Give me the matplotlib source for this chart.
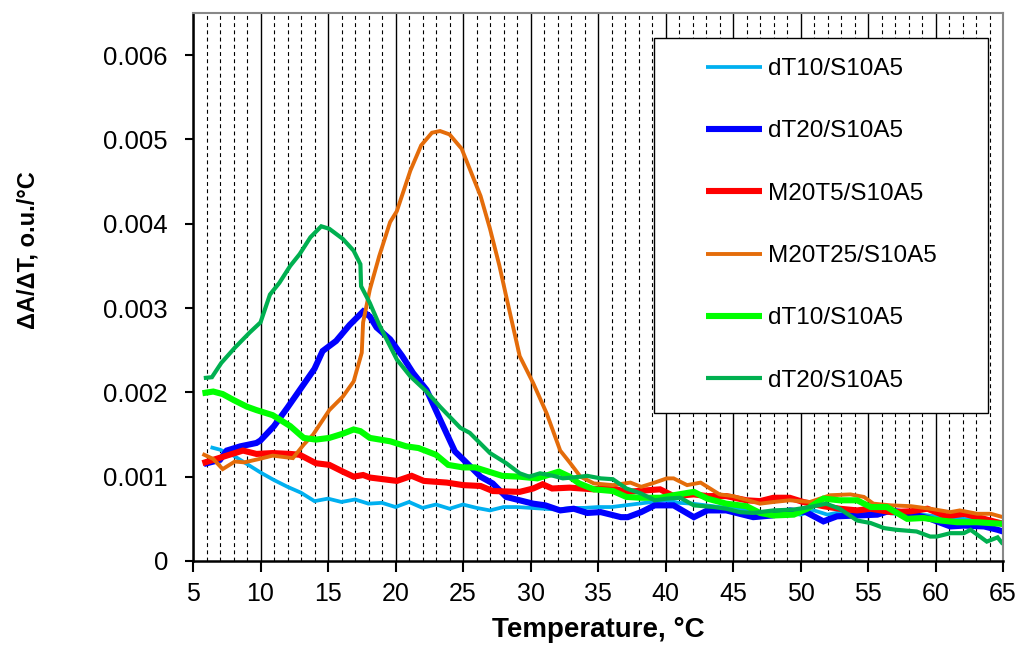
import matplotlib
matplotlib.use("Agg")
import matplotlib.pyplot as plt
from matplotlib.patches import Rectangle
from matplotlib.ticker import MultipleLocator

# series: temperature (°C) and dA/dT values
T_LB = [6.3, 7, 8, 9, 10, 11, 12, 13, 14, 15, 16, 17, 18, 19, 20, 21, 22, 23, 24, 25,
        26, 27, 28, 29, 30, 31, 32, 33, 34, 35, 36, 37, 38, 39, 40, 41, 42, 43, 44, 45,
        46, 47, 48, 49, 50, 51, 52, 53, 54, 55, 56, 57, 58, 59, 60, 61, 62, 63, 64, 65]
V_LB = [0.00135, 0.00132, 0.00125, 0.00115, 0.00105, 0.00096, 0.00088, 0.00081, 0.00071, 0.00074,
        0.00070, 0.00073, 0.00068, 0.00069, 0.00064, 0.00070, 0.00063, 0.00067, 0.00062, 0.00067,
        0.00063, 0.00060, 0.00064, 0.00064, 0.00063, 0.00062, 0.00061, 0.00063, 0.00063, 0.00064,
        0.00064, 0.00066, 0.00068, 0.00070, 0.00072, 0.00069, 0.00068, 0.00066, 0.00064, 0.00063,
        0.00060, 0.00058, 0.00057, 0.00057, 0.00055, 0.00060, 0.00055, 0.00058, 0.00059, 0.00060,
        0.00058, 0.00056, 0.00058, 0.00055, 0.00053, 0.00052, 0.00050, 0.00049, 0.00048, 0.00046]

T_DB = [5.8, 7, 7.5, 8.5, 9.7, 10, 11, 12, 13, 14, 14.6, 15.6, 16.6, 17.6, 18.1, 18.6, 19.6,
        20.5, 21.3, 22.3, 23.3, 24.4, 25.3, 26.3, 27.2, 28.2, 29.2, 30.2, 31.1, 32.2, 33.2,
        34.2, 35.2, 36.7, 37.2, 38.2, 39.2, 40.6, 42.1, 43.1, 44.5, 46.5, 47.9, 49.2, 50.4,
        51.7, 52.7, 54.2, 55.7, 56.7, 58.2, 59.6, 61.1, 62.1, 63.6, 64.6, 65]
V_DB = [0.00115, 0.00120, 0.00131, 0.00136, 0.00140, 0.00143, 0.00160, 0.00182, 0.00205, 0.00228,
        0.00249, 0.00261, 0.00280, 0.00296, 0.00290, 0.00277, 0.00263, 0.00243, 0.00223, 0.00203,
        0.00168, 0.00130, 0.00116, 0.00100, 0.00092, 0.00076, 0.00072, 0.00068, 0.00066, 0.00060,
        0.00062, 0.00057, 0.00058, 0.00052, 0.00052, 0.00058, 0.00066, 0.00066, 0.00052, 0.00060,
        0.00060, 0.00052, 0.00054, 0.00060, 0.00058, 0.00047, 0.00053, 0.00054, 0.00055, 0.00060,
        0.00056, 0.00050, 0.00041, 0.00042, 0.00041, 0.00037, 0.00035]

T_RD = [5.7, 6.7, 7.7, 8.7, 9.7, 10.9, 12.2, 12.9, 14.1, 15.1, 16.1, 16.9, 17.6, 18.1, 19.6,
        20.1, 21.2, 22.1, 23.8, 25, 26.3, 27.2, 29.2, 30.2, 30.9, 31.6, 32.9, 34.7, 35.9, 37.1,
        39.6, 40.6, 42.1, 43.1, 44.5, 46, 47, 48, 49.2, 50.2, 51.7, 52.9, 54.2, 55.2, 56.7,
        58.2, 59.4, 60.8, 62.1, 63.6, 65]
V_RD = [0.00116, 0.00121, 0.00126, 0.00131, 0.00127, 0.00128, 0.00127, 0.00126, 0.00116, 0.00114,
        0.00106, 0.00100, 0.00102, 0.00099, 0.00096, 0.00095, 0.00101, 0.00095, 0.00093, 0.00090,
        0.00089, 0.00083, 0.00082, 0.00086, 0.00091, 0.00086, 0.00087, 0.00085, 0.00087, 0.00082,
        0.00085, 0.00077, 0.00079, 0.00077, 0.00077, 0.00072, 0.00071, 0.00075, 0.00075, 0.00070,
        0.00065, 0.00062, 0.00060, 0.00062, 0.00058, 0.00059, 0.00062, 0.00053, 0.00056, 0.00050,
        0.00044]

T_OR = [5.7, 6.5, 7.2, 8.1, 8.8, 9.9, 10.9, 12.4, 13.2, 13.9, 15.1, 16.1, 16.9, 17.5, 17.6,
        18.1, 18.8, 19.6, 20.1, 21.1, 21.9, 22.7, 23.3, 24, 24.9, 25.5, 26.3, 27, 27.7, 28.2,
        29.2, 30.2, 31.2, 32.2, 32.9, 33.7, 34.7, 36.1, 37.4, 38.2, 39.2, 40.1, 40.6, 41.6,
        42.6, 44, 45, 47, 48, 49.2, 50.7, 52.2, 53.7, 54.7, 55.4, 56.7, 58.2, 59.6, 61.1,
        61.8, 63.1, 64.1, 65]
V_OR = [0.00127, 0.00121, 0.00109, 0.00118, 0.00117, 0.00121, 0.00125, 0.00122, 0.00138, 0.00150,
        0.00179, 0.00195, 0.00213, 0.00247, 0.00283, 0.00322, 0.00362, 0.00402, 0.00415, 0.00463,
        0.00493, 0.00508, 0.00510, 0.00506, 0.00489, 0.00465, 0.00433, 0.00394, 0.00350, 0.00314,
        0.00243, 0.00211, 0.00175, 0.00131, 0.00117, 0.00100, 0.00092, 0.00090, 0.00093, 0.00088,
        0.00093, 0.00098, 0.00098, 0.00090, 0.00093, 0.00079, 0.00077, 0.00068, 0.00070, 0.00072,
        0.00070, 0.00078, 0.00079, 0.00076, 0.00068, 0.00066, 0.00065, 0.00062, 0.00058, 0.00060,
        0.00056, 0.00056, 0.00052]

T_BG = [5.7, 6.5, 7.2, 8, 9, 9.7, 10.9, 12.2, 13.2, 14.1, 15.1, 16.1, 16.9, 17.4, 18.1, 19.6,
        20.8, 21.7, 23, 23.9, 25, 25.9, 26.9, 27.9, 29.2, 30.5, 32.1, 32.9, 33.6, 34.7, 36.1,
        37.1, 38.2, 39.6, 40.6, 42.1, 43.1, 44.5, 46, 47, 48, 49.5, 50.5, 51.7, 52.9, 54.2,
        55.2, 56.4, 57.9, 59.1, 60.4, 61.6, 63.1, 65]
V_BG = [0.00199, 0.00201, 0.00198, 0.00191, 0.00183, 0.00179, 0.00173, 0.00160, 0.00146, 0.00144,
        0.00146, 0.00151, 0.00156, 0.00154, 0.00146, 0.00142, 0.00136, 0.00134, 0.00126, 0.00114,
        0.00111, 0.00111, 0.00106, 0.00101, 0.00100, 0.00098, 0.00106, 0.00100, 0.00092, 0.00085,
        0.00083, 0.00076, 0.00075, 0.00075, 0.00078, 0.00082, 0.00074, 0.00068, 0.00065, 0.00057,
        0.00054, 0.00055, 0.00062, 0.00074, 0.00072, 0.00072, 0.00064, 0.00064, 0.00050, 0.00051,
        0.00048, 0.00046, 0.00046, 0.00044]

T_DG = [5.8, 6.4, 7.1, 8.1, 9.2, 10, 10.7, 11.4, 12.2, 12.9, 13.7, 14.5, 15.1, 16.1, 16.9,
        17.4, 17.45, 18.1, 18.8, 20.1, 21.1, 22.3, 23.3, 24.8, 25.5, 27, 28.2, 29.2, 29.9,
        30.7, 31.7, 32.4, 33.7, 34.2, 35.2, 36.1, 37.1, 38.2, 39.2, 40.1, 41.1, 42.1, 43.6,
        44.5, 45.5, 46.5, 48, 49.5, 50.7, 51.9, 52.9, 54.2, 55.2, 56.2, 57.1, 58.6, 59.6,
        60.1, 61.1, 62.1, 62.6, 63.8, 64.6, 65]
V_DG = [0.00217, 0.00218, 0.00235, 0.00253, 0.00271, 0.00283, 0.00316, 0.00330, 0.00350, 0.00364,
        0.00384, 0.00397, 0.00394, 0.00382, 0.00368, 0.00352, 0.00326, 0.00306, 0.00280, 0.00239,
        0.00219, 0.00201, 0.00183, 0.00158, 0.00152, 0.00128, 0.00116, 0.00104, 0.00100, 0.00104,
        0.00101, 0.00098, 0.00100, 0.00101, 0.00098, 0.00097, 0.00086, 0.00080, 0.00072, 0.00074,
        0.00075, 0.00066, 0.00064, 0.00062, 0.00058, 0.00057, 0.00060, 0.00061, 0.00064, 0.00068,
        0.00062, 0.00048, 0.00045, 0.00039, 0.00037, 0.00035, 0.00029, 0.00029, 0.00033, 0.00033,
        0.00037, 0.00023, 0.00028, 0.00020]

LABELS = ["dT10/S10A5", "dT20/S10A5", "M20T5/S10A5", "M20T25/S10A5", "dT10/S10A5", "dT20/S10A5"]
X_TICKS = [5, 10, 15, 20, 25, 30, 35, 40, 45, 50, 55, 60, 65]
Y_TICKS = [0, 0.001, 0.002, 0.003, 0.004, 0.005, 0.006]
Y_TICK_LABELS = ["0", "0.001", "0.002", "0.003", "0.004", "0.005", "0.006"]

SERIES = [
    (T_LB, V_LB, "#00B0F0", 2.7),
    (T_DB, V_DB, "#0000FF", 4.4),
    (T_RD, V_RD, "#FF0000", 4.4),
    (T_OR, V_OR, "#E46C0A", 2.8),
    (T_BG, V_BG, "#00FF00", 4.4),
    (T_DG, V_DG, "#00B050", 3.0),
]

W, H = 1022, 654
ARIAL = ["Liberation Sans", "DejaVu Sans"]

fig = plt.figure(figsize=(W / 100, H / 100), dpi=100)
ax = fig.add_axes([193 / W, 1 - 561 / H, (1003 - 193) / W, (561 - 13) / H])

handles = []
for (t, v, c, lw), lab in zip(SERIES, LABELS):
    h, = ax.plot(t, v, color=c, lw=lw, solid_joinstyle="miter", solid_capstyle="butt", label=lab)
    handles.append(h)

ax.set_xlim(5, 65)
ax.set_ylim(0, 0.0065)
ax.set_xticks(X_TICKS)
ax.xaxis.set_minor_locator(MultipleLocator(1))
ax.set_yticks(Y_TICKS)
ax.set_yticklabels(Y_TICK_LABELS)

ax.set_axisbelow(True)
ax.grid(axis="x", which="major", color="black", lw=1.0, ls="-")
ax.grid(axis="x", which="minor", color="black", lw=0.8, ls=(0, (3.5, 3)))
ax.tick_params(axis="x", which="minor", length=0)
ax.tick_params(axis="x", which="major", direction="out", length=8, width=1.5, pad=7)
ax.tick_params(axis="y", which="major", direction="out", length=6, width=1.5, pad=12)

for lab in ax.get_xticklabels():
    lab.set_family(ARIAL)
    lab.set_fontsize(18)
for lab in ax.get_yticklabels():
    lab.set_family(ARIAL)
    lab.set_fontsize(18.5)

for s in ("left", "bottom"):
    ax.spines[s].set_color("black")
    ax.spines[s].set_linewidth(1.8)
for s in ("top", "right"):
    ax.spines[s].set_color("#888888")
    ax.spines[s].set_linewidth(1.5)

fig.text(598 / W, 1 - 630 / H, "Temperature, °C", family=ARIAL, fontweight="bold",
         fontsize=20, ha="center", va="center")
fig.text(28 / W, 1 - 250 / H, "ΔA/ΔT, o.u./°C", family=ARIAL, fontweight="bold",
         fontsize=17, rotation=90, ha="center", va="center")

# legend frame and entries
fig.add_artist(Rectangle((654 / W, 1 - 413 / H), 334 / W, 375 / H, transform=fig.transFigure,
                         facecolor="white", edgecolor="black", lw=1.0, zorder=3))
leg = fig.legend(handles=handles, loc="upper left", bbox_to_anchor=(706 / W, 1 - 58 / H),
                 frameon=False, borderaxespad=0, borderpad=0, handlelength=2.3,
                 handletextpad=0.25, labelspacing=1.66, prop={"family": ARIAL, "size": 17.5})
leg.set_zorder(4)

fig.savefig("out.png", dpi=100)
